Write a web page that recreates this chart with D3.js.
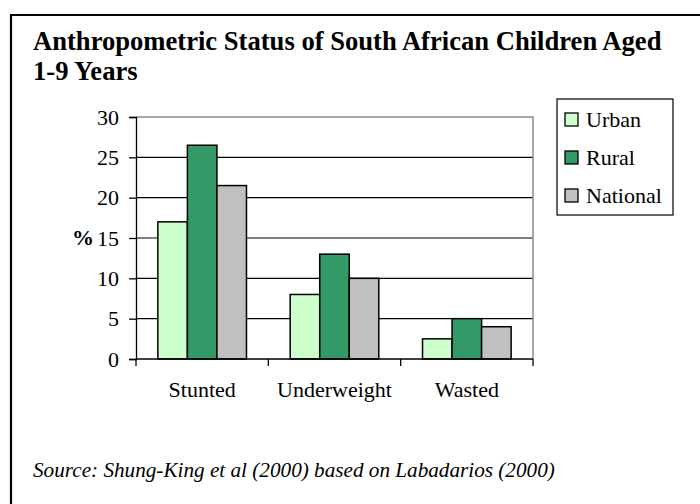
<html>
  <head>
    <script src="https://d3js.org/d3.v7.min.js"></script>
    <style>
      body { margin: 0; background: #fff; }
      svg text { font-family: "Liberation Serif", "Times New Roman", Times, "DejaVu Serif", serif; }
    </style>
  </head>
  <body>
    <svg class="chart"></svg>
  </body>
  <script>
  // data
  const categories = ['Stunted', 'Underweight', 'Wasted'];
  const seriesNames = ['Urban', 'Rural', 'National'];
  const urban = [17, 8, 2.5];
  const rural = [26.5, 13, 5];
  const national = [21.5, 10, 4];
  const yTicks = [0, 5, 10, 15, 20, 25, 30];
  const colors = ['#ccffcc', '#339966', '#c0c0c0'];

  const values = [urban, rural, national];
  const serif = '"Liberation Serif", "Times New Roman", Times, serif';

  function drawChart(){
    let width = 700;
    let height = 504;
    let plot = {left:136, right:533, top:117, bottom:359};

    let svg = d3.select('.chart')
      .attr('width', width)
      .attr('height', height)
      .attr('viewBox', [0, 0, width, height])
      .style('font-family', serif);

    // outer frame (only left and top edges are in view)
    svg.append('path')
      .attr('d', `M11,${height+5}V15H${width+5}`)
      .attr('fill', 'none')
      .attr('stroke', '#000')
      .attr('stroke-width', 2.2);

    // title
    let title = svg.append('text')
      .attr('font-size', 26.6)
      .attr('font-weight', 'bold')
      .style('font-family', serif);
    title.append('tspan').attr('x', 33).attr('y', 50).text('Anthropometric Status of South African Children Aged');
    title.append('tspan').attr('x', 33).attr('y', 80).text('1-9 Years');

    let x = d3.scaleBand()
      .domain(categories)
      .range([plot.left, plot.right])
      .paddingInner(0)
      .paddingOuter(0);

    let xs = d3.scaleBand()
      .domain(seriesNames)
      .range([0, x.bandwidth()])
      .paddingInner(0)
      .paddingOuter(0.74);

    let y = d3.scaleLinear()
      .domain([0, 30])
      .range([plot.bottom, plot.top]);

    // gridlines
    svg.append('g')
      .selectAll('line')
      .data(yTicks.filter(d => d > 0 && d < 30))
      .join('line')
        .attr('x1', plot.left)
        .attr('x2', plot.right)
        .attr('y1', d => y(d))
        .attr('y2', d => y(d))
        .attr('stroke', '#000')
        .attr('stroke-width', 1.2);

    // plot area border top/right
    svg.append('path')
      .attr('d', `M${plot.left},${plot.top}H${plot.right}V${plot.bottom}`)
      .attr('fill', 'none')
      .attr('stroke', '#8c8c8c')
      .attr('stroke-width', 1.5);

    // bars
    svg.append('g')
      .selectAll('g')
      .data(seriesNames)
      .join('g')
        .attr('fill', (d, i) => colors[i])
      .selectAll('rect')
      .data((s, i) => categories.map((c, j) => ({c, s, v: values[i][j]})))
      .join('rect')
        .attr('x', d => x(d.c) + xs(d.s))
        .attr('y', d => y(d.v))
        .attr('width', xs.bandwidth())
        .attr('height', d => y(0) - y(d.v))
        .attr('stroke', '#000')
        .attr('stroke-width', 1.5);

    // y axis
    let yAxis = svg.append('g')
      .attr('transform', `translate(${plot.left},0)`)
      .call(d3.axisLeft(y).tickValues(yTicks).tickSize(7).tickPadding(10))
      .attr('font-family', null)
      .attr('font-size', null);
    yAxis.select('.domain').attr('stroke', '#000').attr('stroke-width', 1.3);
    yAxis.selectAll('.tick line').attr('stroke-width', 1.3);
    yAxis.selectAll('text')
      .style('font-family', serif)
      .attr('font-size', 22)
      .attr('fill', '#000');

    // x axis with ticks at band edges
    let xAxis = svg.append('g')
      .attr('transform', `translate(0,${plot.bottom})`);
    xAxis.append('line')
      .attr('x1', plot.left).attr('x2', plot.right)
      .attr('stroke', '#000').attr('stroke-width', 1.3);
    xAxis.selectAll('.edge')
      .data(categories.map(c => x(c)).concat([plot.right]))
      .join('line')
        .attr('class', 'edge')
        .attr('x1', d => d).attr('x2', d => d)
        .attr('y1', 0).attr('y2', 7)
        .attr('stroke', '#000').attr('stroke-width', 1.3);
    xAxis.selectAll('.lbl')
      .data(categories)
      .join('text')
        .attr('class', 'lbl')
        .attr('x', d => x(d) + x.bandwidth() / 2)
        .attr('y', 38)
        .attr('text-anchor', 'middle')
        .attr('font-size', 22)
        .style('font-family', serif)
        .text(d => d);

    // axis title
    svg.append('text')
      .attr('x', 94)
      .attr('y', y(15) + 7)
      .attr('text-anchor', 'end')
      .attr('font-size', 22)
      .attr('font-weight', 'bold')
      .style('font-family', serif)
      .text('%');

    // legend
    let legend = svg.append('g').attr('transform', 'translate(557,99)');
    legend.append('rect')
      .attr('width', 116).attr('height', 116)
      .attr('fill', '#fff').attr('stroke', '#000').attr('stroke-width', 1.2);
    let item = legend.selectAll('.item')
      .data(seriesNames)
      .join('g')
        .attr('class', 'item')
        .attr('transform', (d, i) => `translate(8,${21 + i * 38})`);
    item.append('rect')
      .attr('y', -7).attr('width', 13).attr('height', 13)
      .attr('fill', (d, i) => colors[i])
      .attr('stroke', '#000').attr('stroke-width', 1.3);
    item.append('text')
      .attr('x', 21).attr('y', 7)
      .attr('font-size', 22)
      .style('font-family', serif)
      .text(d => d);

    // source note
    svg.append('text')
      .attr('x', 33)
      .attr('y', 477)
      .attr('font-size', 21.2)
      .attr('font-style', 'italic')
      .style('font-family', serif)
      .text('Source: Shung-King et al (2000) based on Labadarios (2000)');
  }

  drawChart();
  </script>
</html>
